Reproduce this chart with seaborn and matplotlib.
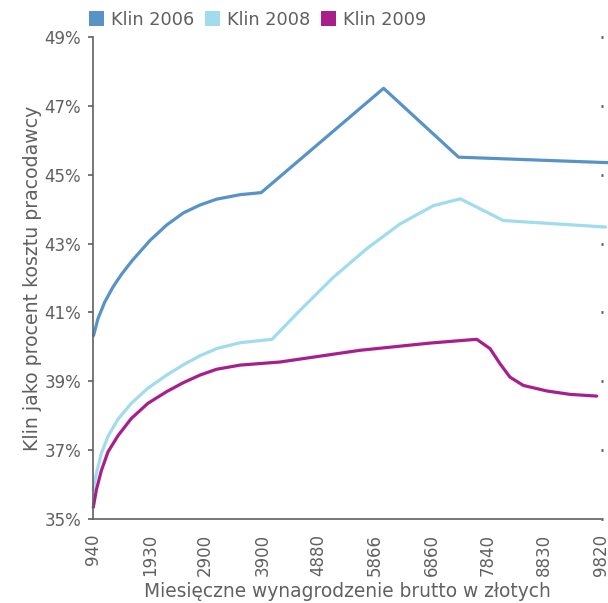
import pandas as pd
import matplotlib.pyplot as plt
import seaborn as sns
from matplotlib.patches import Patch

# Values (x: gross monthly pay, y: wedge in %)
x_2006 = [950, 1027, 1145, 1290, 1435, 1627, 1936, 2228, 2519, 2810, 3102, 3510, 3880, 6020, 7330, 9940]
y_2006 = [40.33, 40.82, 41.30, 41.74, 42.10, 42.51, 43.09, 43.54, 43.89, 44.12, 44.29, 44.42, 44.48, 47.51, 45.51, 45.35]

x_2008 = [945, 998, 1085, 1202, 1377, 1610, 1900, 2228, 2519, 2810, 3102, 3510, 4070,
          4558, 5141, 5724, 6307, 6889, 7360, 8112, 9900]
y_2008 = [35.84, 36.32, 36.90, 37.40, 37.90, 38.36, 38.80, 39.18, 39.48, 39.74, 39.95, 40.12, 40.22,
          41.06, 42.02, 42.85, 43.57, 44.10, 44.30, 43.67, 43.48]

x_2009 = [945, 998, 1085, 1202, 1377, 1610, 1900, 2228, 2519, 2810, 3102, 3510, 4209,
          5607, 6831, 7647, 7880, 8055, 8229, 8462, 8870, 9278, 9745]
y_2009 = [35.34, 35.84, 36.40, 36.95, 37.42, 37.92, 38.36, 38.70, 38.96, 39.18, 39.35, 39.47, 39.56,
          39.90, 40.11, 40.22, 39.95, 39.51, 39.12, 38.88, 38.72, 38.62, 38.57]

series = ["Klin 2006", "Klin 2008", "Klin 2009"]
colors = ["#5893c8", "#a0dbee", "#a81f8c"]

x_ticks = [940, 1930, 2900, 3900, 4880, 5866, 6860, 7840, 8830, 9820]
y_ticks = [35, 37, 39, 41, 43, 45, 47, 49]
y_tick_labels = [f"{v}%" for v in y_ticks]

df = pd.concat([
    pd.DataFrame({"x": x_2006, "y": y_2006, "seria": series[0]}),
    pd.DataFrame({"x": x_2008, "y": y_2008, "seria": series[1]}),
    pd.DataFrame({"x": x_2009, "y": y_2009, "seria": series[2]}),
])

sns.set_style("white")
plt.rcParams["font.family"] = ["DejaVu Sans"]
gray = "#606060"

fig = plt.figure(figsize=(6.08, 6.03), dpi=100)
ax = fig.add_axes([93 / 608, 1 - 519 / 603, 508 / 608, 482 / 603])

sns.lineplot(data=df, x="x", y="y", hue="seria", palette=colors, sort=False,
             linewidth=2.3, legend=False, ax=ax, clip_on=False)

ax.set_xlim(940, 9820)
ax.set_ylim(35, 49)
ax.set_xticks(x_ticks)
ax.set_xticklabels([str(v) for v in x_ticks], rotation=90)
ax.set_yticks(y_ticks)
ax.set_yticklabels(y_tick_labels)

for s in ["top", "right"]:
    ax.spines[s].set_visible(False)
for s in ["left", "bottom"]:
    ax.spines[s].set_color(gray)
    ax.spines[s].set_linewidth(1.2)

ax.tick_params(axis="both", direction="out", length=3.6, width=1.2, color=gray,
               labelcolor=gray, labelsize=12)
ax.tick_params(axis="x", pad=7)
ax.tick_params(axis="y", pad=5)
ax.yaxis.set_ticks_position("both")
ax.tick_params(axis="y", labelright=False)
for t in ax.yaxis.get_major_ticks():
    t.tick2line.set_markersize(1.5)
    t.tick2line.set_markeredgewidth(2)
    t.tick2line.set_color("#888888")

ax.set_xlabel("Miesięczne wynagrodzenie brutto w złotych", color=gray, fontsize=13.4, labelpad=4)
ax.set_ylabel("Klin jako procent kosztu pracodawcy", color=gray, fontsize=13.6, labelpad=2)

handles = [Patch(facecolor=c, edgecolor="none", label=s) for s, c in zip(series, colors)]
leg = fig.legend(handles=handles, ncol=3, loc="upper left", bbox_to_anchor=(78 / 608, 1.0),
                 frameon=False, fontsize=12.8, handlelength=0.85, handleheight=0.85,
                 handletextpad=0.4, columnspacing=0.6, borderaxespad=0.2)
for txt in leg.get_texts():
    txt.set_color(gray)

plt.savefig("out.png", dpi=100)
